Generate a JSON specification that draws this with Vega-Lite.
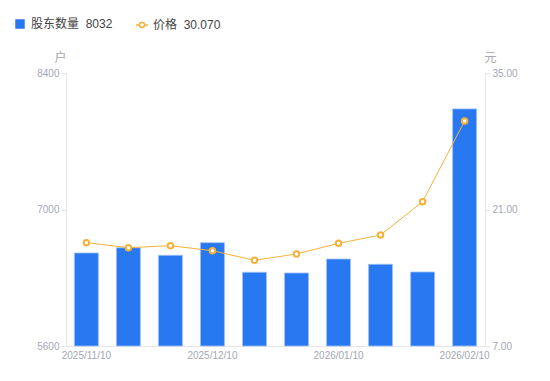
{
  "$schema": "https://vega.github.io/schema/vega-lite/v6.json",
  "width": 419,
  "height": 273,
  "autosize": {"type": "none"},
  "padding": {"left": 66, "top": 73, "right": 65, "bottom": 35},
  "config": {"font": "Liberation Sans, Noto Sans CJK SC, sans-serif", "view": {"stroke": null}},
  "data": {
    "values": [
      {"date": "2025/11/10", "holders": 6554, "price": 17.6, "s1": "股东数量", "s2": "价格"},
      {"date": "2025/11/20", "holders": 6608, "price": 17.08, "s1": "股东数量", "s2": "价格"},
      {"date": "2025/11/30", "holders": 6530, "price": 17.29, "s1": "股东数量", "s2": "价格"},
      {"date": "2025/12/10", "holders": 6660, "price": 16.77, "s1": "股东数量", "s2": "价格"},
      {"date": "2025/12/20", "holders": 6356, "price": 15.79, "s1": "股东数量", "s2": "价格"},
      {"date": "2025/12/31", "holders": 6349, "price": 16.44, "s1": "股东数量", "s2": "价格"},
      {"date": "2026/01/10", "holders": 6492, "price": 17.53, "s1": "股东数量", "s2": "价格"},
      {"date": "2026/01/20", "holders": 6438, "price": 18.38, "s1": "股东数量", "s2": "价格"},
      {"date": "2026/01/31", "holders": 6359, "price": 21.8, "s1": "股东数量", "s2": "价格"},
      {"date": "2026/02/10", "holders": 8032, "price": 30.07, "s1": "股东数量", "s2": "价格"}
    ]
  },
  "encoding": {
    "x": {
      "field": "date",
      "type": "ordinal",
      "sort": null,
      "scale": {"paddingInner": 0.43, "paddingOuter": 0.2},
      "axis": {
        "title": null,
        "values": ["2025/11/10", "2025/12/10", "2026/01/10", "2026/02/10"],
        "labelAngle": 0,
        "labelColor": "#a3a7b3",
        "labelFontSize": 10,
        "labelPadding": 4,
        "ticks": false,
        "domainColor": "#e6e6e6",
        "grid": false
      }
    }
  },
  "layer": [
    {
      "mark": {"type": "bar", "stroke": "#9dc0f8", "strokeWidth": 1, "strokeOpacity": 0.8},
      "encoding": {
        "y": {
          "field": "holders",
          "type": "quantitative",
          "scale": {"domain": [5600, 8400], "zero": false, "nice": false},
          "axis": {
            "values": [5600, 7000, 8400],
            "format": "d",
            "grid": false,
            "domainColor": "#e6e6e6",
            "tickColor": "#e6e6e6",
            "tickSize": 5,
            "labelPadding": 2,
            "labelColor": "#a3a7b3",
            "labelFontSize": 10,
            "title": "户",
            "titleAngle": 0,
            "titleX": -6,
            "titleY": -16,
            "titleAlign": "center",
            "titleBaseline": "middle",
            "titleColor": "#a3a7b3",
            "titleFontWeight": "normal",
            "titleFontSize": 12
          }
        },
        "y2": {"datum": 5600},
        "fill": {
          "field": "s1",
          "type": "nominal",
          "scale": {"range": ["#2878f2"]},
          "legend": {
            "orient": "none",
            "legendX": -52,
            "legendY": -55,
            "title": null,
            "symbolType": "square",
            "symbolSize": 90,
            "symbolStrokeWidth": 0,
            "labelFontSize": 12,
            "labelColor": "#444444",
            "labelOffset": 5,
            "labelExpr": "datum.label + '\u00a0\u00a08032'"
          }
        }
      }
    },
    {
      "encoding": {
        "y": {
          "field": "price",
          "type": "quantitative",
          "scale": {"domain": [7, 35], "zero": false, "nice": false},
          "axis": {
            "orient": "right",
            "values": [7, 21, 35],
            "format": ".2f",
            "grid": false,
            "domainColor": "#e6e6e6",
            "tickColor": "#e6e6e6",
            "tickSize": 5,
            "labelPadding": 2,
            "labelColor": "#a3a7b3",
            "labelFontSize": 10,
            "title": "元",
            "titleAngle": 0,
            "titleX": 5,
            "titleY": -16,
            "titleAlign": "center",
            "titleBaseline": "middle",
            "titleColor": "#a3a7b3",
            "titleFontWeight": "normal",
            "titleFontSize": 12
          }
        }
      },
      "layer": [
        {
          "mark": {"type": "line", "strokeWidth": 1},
          "encoding": {
            "stroke": {
              "field": "s2",
              "type": "nominal",
              "scale": {"range": ["#f6b13a"]},
              "legend": {
                "orient": "none",
                "legendX": 69,
                "legendY": -55,
                "title": null,
                "symbolType": "M-1,0H-0.42M0.42,0H1M-0.42,0A0.42,0.42,0,1,1,0.42,0A0.42,0.42,0,1,1,-0.42,0",
                "symbolSize": 150,
                "symbolStrokeWidth": 1.5,
                "symbolFillColor": "white",
                "labelFontSize": 12,
                "labelColor": "#444444",
                "labelOffset": 4,
                "labelExpr": "datum.label + '\u00a0\u00a030.070'"
              }
            }
          }
        },
        {
          "mark": {"type": "point", "filled": true, "fill": "white", "stroke": "#f6b13a", "strokeWidth": 2, "size": 30, "opacity": 1},
          "encoding": {}
        }
      ]
    }
  ],
  "resolve": {"scale": {"y": "independent", "fill": "independent", "stroke": "independent"}}
}
